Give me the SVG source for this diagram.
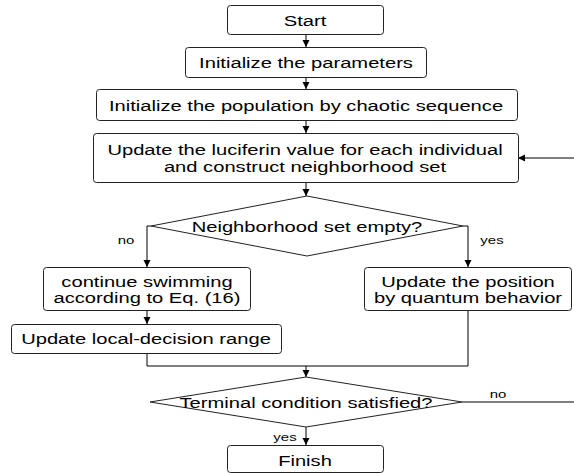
<svg xmlns="http://www.w3.org/2000/svg" width="574" height="473" viewBox="0 0 574 473">
<defs>
<marker id="arr" markerUnits="userSpaceOnUse" markerWidth="8" markerHeight="8" refX="7" refY="3.5" orient="auto">
<path d="M0,0 L7,3.5 L0,7 z" fill="#000"/>
</marker>
<style>
.box{fill:#fff;stroke:#222;stroke-width:1}
.t{font-family:"Liberation Sans",Arial,sans-serif;font-size:15.5px;fill:#000;text-anchor:middle}
.l{font-family:"Liberation Sans",Arial,sans-serif;font-size:11.5px;fill:#000;text-anchor:middle}
.c{fill:none;stroke:#000;stroke-width:1}
</style>
</defs>
<rect width="574" height="473" fill="#fff"/>
<g id="connectors">
<path class="c" d="M306,34 V47" marker-end="url(#arr)"/>
<path class="c" d="M306,77 V89" marker-end="url(#arr)"/>
<path class="c" d="M306,121 V133" marker-end="url(#arr)"/>
<path class="c" d="M306,182 V196" marker-end="url(#arr)"/>
<path class="c" d="M151,226 H147 V267" marker-end="url(#arr)"/>
<path class="c" d="M463,226 H468 V267" marker-end="url(#arr)"/>
<path class="c" d="M147,310 V324" marker-end="url(#arr)"/>
<path class="c" d="M147,353 V366 H468 V310"/>
<path class="c" d="M306,366 V377" marker-end="url(#arr)"/>
<path class="c" d="M306,427 V445" marker-end="url(#arr)"/>
<path class="c" d="M462,402 H577 V158 H518" marker-end="url(#arr)"/>
<text class="l" transform="translate(126,244) scale(1.3,1)">no</text>
<text class="l" transform="translate(492,244) scale(1.3,1)">yes</text>
<text class="l" transform="translate(498,398) scale(1.3,1)">no</text>
<text class="l" transform="translate(285,441) scale(1.3,1)">yes</text>
</g>
<g id="start">
<rect class="box" x="227.5" y="5.5" width="156" height="29" rx="3"/>
<text class="t" transform="translate(305,26) scale(1.3,1)">Start</text>
</g>
<g id="init-params">
<rect class="box" x="185.5" y="47.5" width="241" height="30" rx="3"/>
<text class="t" transform="translate(306,68) scale(1.3,1)">Initialize the parameters</text>
</g>
<g id="init-population">
<rect class="box" x="96.5" y="89.5" width="421" height="31" rx="3"/>
<text class="t" transform="translate(306,111) scale(1.3,1)">Initialize the population by chaotic sequence</text>
</g>
<g id="update-luciferin">
<rect class="box" x="93.5" y="133.5" width="425" height="49" rx="3"/>
<text class="t" transform="translate(305,155) scale(1.3,1)">Update the luciferin value for each individual</text>
<text class="t" transform="translate(305,172) scale(1.3,1)">and construct neighborhood set</text>
</g>
<g id="decision-neighborhood">
<polygon class="box" points="307,196 463,226 307,256 151,226"/>
<text class="t" transform="translate(307,232) scale(1.3,1)">Neighborhood set empty?</text>
</g>
<g id="continue-swimming">
<rect class="box" x="43.5" y="267.5" width="207" height="43" rx="3"/>
<text class="t" transform="translate(147,287) scale(1.3,1)">continue swimming</text>
<text class="t" transform="translate(147,303) scale(1.3,1)">according to Eq. (16)</text>
</g>
<g id="update-position">
<rect class="box" x="364.5" y="267.5" width="207" height="43" rx="3"/>
<text class="t" transform="translate(468,287) scale(1.3,1)">Update the position</text>
<text class="t" transform="translate(468,303) scale(1.3,1)">by quantum behavior</text>
</g>
<g id="update-range">
<rect class="box" x="11.5" y="324.5" width="270" height="29" rx="3"/>
<text class="t" transform="translate(146,344) scale(1.3,1)">Update local-decision range</text>
</g>
<g id="decision-terminal">
<polygon class="box" points="306,377 462,402 306,427 150,402"/>
<text class="t" transform="translate(306,408) scale(1.3,1)">Terminal condition satisfied?</text>
</g>
<g id="finish">
<rect class="box" x="227.5" y="445.5" width="156" height="27" rx="3"/>
<text class="t" transform="translate(305,466) scale(1.3,1)">Finish</text>
</g>
</svg>
